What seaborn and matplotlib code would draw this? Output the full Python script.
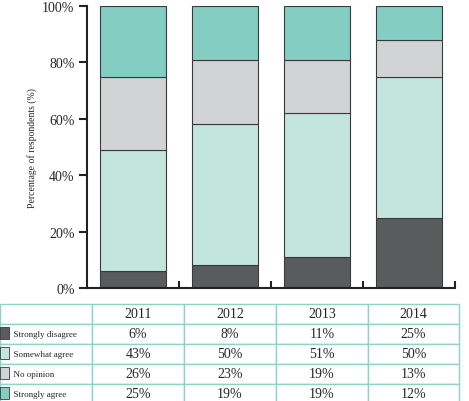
import matplotlib
matplotlib.use("Agg")
import matplotlib.pyplot as plt
import seaborn as sns
import numpy as np
from matplotlib.patches import Rectangle

# data (percent of respondents per year)
years = ["2011", "2012", "2013", "2014"]
series = ["Strongly disagree", "Somewhat agree", "No opinion", "Strongly agree"]
colors = ["#595b5c", "#c2e5dc", "#d2d3d5", "#84cdc2"]
dark = [6, 8, 11, 25]
light = [43, 50, 51, 50]
grey = [26, 23, 19, 13]
teal = [25, 19, 19, 12]
yticks = [0, 20, 40, 60, 80, 100]

sns.set_style("white")
plt.rcParams["font.family"] = ["Liberation Serif", "DejaVu Serif"]

fig = plt.figure(figsize=(4.69, 4.02), dpi=100)
ax = fig.add_axes([87 / 469, 113 / 402, 368 / 469, 282 / 402])

values = [dark, light, grey, teal]
bottom = np.zeros(len(years))
for vals, col in zip(values, colors):
    sns.barplot(x=years, y=vals, bottom=bottom, color=col, width=0.72, saturation=1,
                edgecolor="#3a3a3a", linewidth=0.8, ax=ax)
    bottom = bottom + np.array(vals)

ax.set_xlim(-0.5, 3.5)
ax.set_ylim(0, 100)
ax.set_yticks(yticks)
ax.set_yticklabels([f"{t}%" for t in yticks], fontsize=10)
ax.set_xticks([0.5, 1.5, 2.5, 3.5])
ax.set_xticklabels([])
ax.tick_params(axis="y", direction="out", length=6, width=1.5, color="#222222", left=True, pad=3)
ax.tick_params(axis="x", direction="in", length=5, width=1.5, color="#222222", bottom=True)
for s in ["top", "right"]:
    ax.spines[s].set_visible(False)
for s in ["left", "bottom"]:
    ax.spines[s].set_color("#222222")
    ax.spines[s].set_linewidth(1.5)
ax.set_xlabel("")
ax.set_ylabel("Percentage of respondents (%)", fontsize=7, labelpad=4)

# data table underneath
tax = fig.add_axes([0, -3 / 402, 459 / 469, 100 / 402])
tax.axis("off")
cell_text = [["", *years]]
for name, vals in zip(series, values):
    cell_text.append(["      " + name, *[f"{v}%" for v in vals]])
tbl = tax.table(cellText=cell_text, bbox=[0, 0, 1, 1], cellLoc="center",
                colWidths=[92, 92, 92, 92, 91])
tbl.auto_set_font_size(False)
tbl.set_fontsize(10)
for (r, c), cell in tbl.get_celld().items():
    cell.set_edgecolor("#8fd3c6")
    cell.set_linewidth(1.0)
    if c == 0:
        cell.get_text().set_ha("left")
        cell.get_text().set_fontsize(6.5)
        cell.PAD = 0.0

for i, col in enumerate(colors):
    y0 = 1 - (i + 2) * 0.2 + 0.05
    tax.add_patch(Rectangle((0.0, y0), 9 / 459, 0.12, transform=tax.transAxes,
                            facecolor=col, edgecolor="#3a3a3a", linewidth=0.6,
                            clip_on=False))

fig.savefig("out.png", dpi=100)
